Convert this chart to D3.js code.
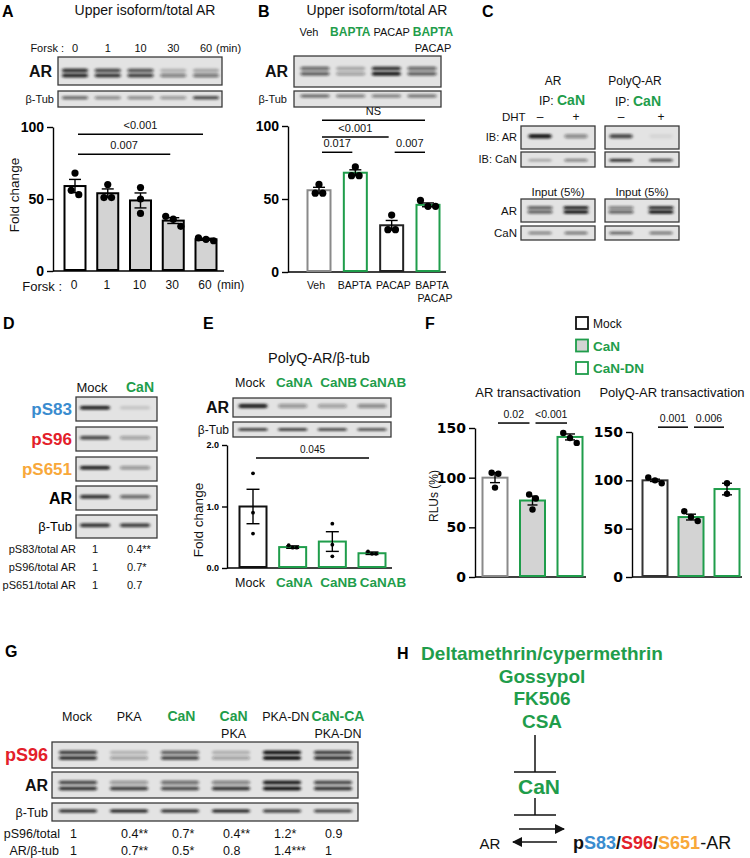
<!DOCTYPE html>
<html lang="en">
<head>
<meta charset="UTF-8">
<title>Calcineurin dephosphorylates AR</title>
<script src="https://cdnjs.cloudflare.com/ajax/libs/d3/7.8.5/d3.min.js"></script>
<style>
  body { margin: 0; background: #fff; }
  svg { display: block; font-family: "Liberation Sans", Arial, sans-serif; }
</style>
</head>
<body>
<script>
const GREEN = "#1f9d4b", BLUE = "#3a8ccf", RED = "#e3202a", ORANGE = "#f8a83a", GRAYFILL = "#d3d3d3";

// ---- A: forskolin time course ----
const aLanes = ["0", "1", "10", "30", "60"];
const aMean = [59, 54, 49, 35, 22];
const aSem = [4.6, 3, 5.2, 2, 0.7];
const aDots = [[68, 53, 56], [60, 51, 51], [58, 50, 40], [38, 36, 31], [23, 21, 22]];
const aSig = [["0", "60", 95, "<0.001"], ["0", "30", 81, "0.007"]];
const aARup = [0.85, 0.7, 0.65, 0.2, 0.25];
const aARlo = [0.9, 0.8, 0.75, 0.45, 0.5];
const aTub = [0.55, 0.4, 0.4, 0.35, 0.7];

// ---- B: BAPTA / PACAP ----
const bLanes = ["Veh", "BAPTA", "PACAP", "BAPTA PACAP"];
const bMean = [56, 68, 32, 46];
const bSem = [2, 2, 3.3, 1.3];
const bDots = [[60, 54, 54], [72, 66, 66], [39, 29, 29], [49, 45, 45]];
const bSig = [["Veh", "BAPTA PACAP", 104, "NS"], ["Veh", "PACAP", 92.5, "<0.001"],
              ["Veh", "BAPTA", 82, "0.017"], ["PACAP", "BAPTA PACAP", 82, "0.007"]];
const bARup = [0.55, 0.25, 0.8, 0.55];
const bARlo = [0.6, 0.3, 0.95, 0.6];
const bTub = [0.55, 0.45, 0.45, 0.5];

// ---- C: co-IP ----
const cLanes = ["-", "+"];
const cIBAR = [[0.95, 0.4], [0.7, 0.06]];
const cIBCaN = [[0.25, 0.45], [0.85, 0.7]];
const cInARup = [[0.6, 0.9], [0.45, 0.85]];
const cInARlo = [[0.6, 0.95], [0.6, 0.95]];
const cInCaN = [[0.45, 0.5], [0.6, 0.5]];

// ---- D: phospho-sites ----
const dLanes = ["Mock", "CaN"];
const dBlots = [
  { name: "pS83", color: BLUE, v: [0.9, 0.12] },
  { name: "pS96", color: RED, v: [0.7, 0.3] },
  { name: "pS651", color: ORANGE, v: [0.9, 0.35] },
  { name: "AR", color: "#000", v: [0.8, 0.55] },
  { name: "β-Tub", color: "#000", v: [0.8, 0.75] }
];
const dRows = [["pS83/total AR", "1", "0.4**"], ["pS96/total AR", "1", "0.7*"], ["pS651/total AR", "1", "0.7"]];

// ---- E: PolyQ-AR / CaN subunits ----
const eLanes = ["Mock", "CaNA", "CaNB", "CaNAB"];
const eMean = [1.0, 0.34, 0.43, 0.24];
const eSem = [0.28, 0.02, 0.16, 0.02];
const eDots = [[1.54, 0.90, 0.56], [0.37, 0.33, 0.33], [0.72, 0.38, 0.19], [0.27, 0.23, 0.23]];
const eSig = [["Mock", "CaNAB", 1.79, "0.045"]];
const eAR = [0.9, 0.35, 0.3, 0.4];
const eTub = [0.75, 0.75, 0.7, 0.65];

// ---- F: transactivation ----
const fCats = ["Mock", "CaN", "CaN-DN"];
const fLeftMean = [100, 77, 141];
const fLeftSem = [5, 4.5, 3];
const fLeftDots = [[105, 104, 90], [83, 79, 68], [145, 140, 135]];
const fLeftSig = [["Mock", "CaN", 155, "0.02"], ["CaN", "CaN-DN", 155, "<0.001"]];
const fRightMean = [100, 62, 91];
const fRightSem = [1.2, 3, 6];
const fRightDots = [[103, 97, 100], [68, 62, 58], [97, 86]];
const fRightSig = [["Mock", "CaN", 155, "0.001"], ["CaN", "CaN-DN", 155, "0.006"]];

// ---- G: PKA / CaN ----
const gLanes = ["Mock", "PKA", "CaN", "CaN+PKA", "PKA-DN", "CaN-CA+PKA-DN"];
const gTop = [["Mock", false], ["PKA", false], ["CaN", true], ["CaN", true], ["PKA-DN", false], ["CaN-CA", true]];
const gSub = ["", "", "", "PKA", "", "PKA-DN"];
const gS96up = [0.75, 0.2, 0.6, 0.22, 1, 0.75];
const gS96lo = [0.8, 0.3, 0.7, 0.3, 1, 0.8];
const gARup = [0.7, 0.35, 0.55, 0.45, 0.95, 0.7];
const gARlo = [0.8, 0.75, 0.7, 0.8, 1, 0.8];
const gTub = [0.8, 0.85, 0.8, 0.85, 0.75, 0.7];
const gRowS96 = ["1", "0.4**", "0.7*", "0.4**", "1.2*", "0.9"];
const gRowARtub = ["1", "0.7**", "0.5*", "0.8", "1.4***", "1"];

// ---- H: scheme ----
const hInhibitors = ["Deltamethrin/cypermethrin", "Gossypol", "FK506", "CSA"];

const svg = d3.select("body").append("svg").attr("width", 750).attr("height", 858);
const defs = svg.append("defs");
defs.append("filter").attr("id", "band").attr("x", "-30%").attr("y", "-150%").attr("width", "160%").attr("height", "400%")
  .append("feGaussianBlur").attr("stdDeviation", "1.6 0.9");
defs.append("marker").attr("id", "head").attr("viewBox", "0 0 10 10").attr("refX", 9).attr("refY", 5)
  .attr("markerWidth", 11).attr("markerHeight", 10).attr("markerUnits", "userSpaceOnUse").attr("orient", "auto")
  .append("path").attr("d", "M0,0 L10,5 L0,10 z").attr("fill", "#111");

function txt(x, y, s, o = {}) {
  return svg.append("text").attr("x", x).attr("y", y).text(s)
    .attr("font-size", o.size || 11).attr("font-weight", o.bold ? "bold" : "normal")
    .attr("fill", o.color || "#111").attr("text-anchor", o.anchor || "middle");
}
function rich(x, y, parts, o = {}) {
  const t = svg.append("text").attr("x", x).attr("y", y).attr("font-size", o.size || 11)
    .attr("text-anchor", o.anchor || "middle");
  parts.forEach(p => t.append("tspan").text(p[0]).attr("fill", p[1] || "#111")
    .attr("font-weight", p[2] ? "bold" : "normal").attr("font-size", p[3] || null));
  return t;
}
function letter(x, y, s) { txt(x, y, s, { size: 16, bold: true, anchor: "start", color: "#000" }); }

// western blot strip: box [x0,y0,x1,y1], lane scale, rows of bands
function blot(box, xs, rows, bw) {
  const [x0, y0, x1, y1] = box;
  const g = svg.append("g");
  g.append("rect").attr("x", x0).attr("y", y0).attr("width", x1 - x0).attr("height", y1 - y0)
    .attr("fill", "#e3e3e3").attr("stroke", "#3a3a3a").attr("stroke-width", 1.3);
  rows.forEach(r => {
    g.selectAll(null).data(xs.domain()).join("rect")
      .attr("x", d => xs(d) - bw / 2).attr("width", bw)
      .attr("y", y0 + r.f * (y1 - y0) - r.h / 2).attr("height", r.h).attr("rx", r.h / 2)
      .attr("fill", "#141414").attr("fill-opacity", (d, i) => r.v[i])
      .attr("filter", "url(#band)");
  });
}
function blotLabel(xr, box, s, o = {}) {
  const cy = (box[1] + box[3]) / 2;
  const size = o.size || 11;
  txt(xr, cy + size * 0.36, s, { size, bold: o.bold, color: o.color || "#111", anchor: "end" });
}

// bar chart with sem and individual points
function bars(o) {
  const g = svg.append("g");
  const base = o.y(0);
  const ax = g.append("g").attr("transform", `translate(${o.x0},0)`)
    .call(d3.axisLeft(o.y).tickValues(o.ticks).tickSize(o.tick || 6).tickSizeOuter(0).tickPadding(o.pad || 3));
  ax.selectAll("path,line").attr("stroke", "#000").attr("stroke-width", o.axW || 1.4);
  ax.selectAll("text").attr("font-size", o.fs).attr("font-weight", "bold").attr("fill", "#000")
    .attr("font-family", o.ff || null);
  g.append("line").attr("x1", o.x0).attr("x2", o.x1).attr("y1", base).attr("y2", base)
    .attr("stroke", "#000").attr("stroke-width", o.axW || 1.4);
  const cats = o.x.domain();
  g.selectAll(null).data(cats).join("rect")
    .attr("x", d => o.x(d) - o.bw / 2).attr("width", o.bw)
    .attr("y", (d, i) => o.y(o.mean[i])).attr("height", (d, i) => base - o.y(o.mean[i]) - 1)
    .attr("fill", (d, i) => o.fill[i]).attr("stroke", (d, i) => o.stroke[i]).attr("stroke-width", o.sw || 2);
  cats.forEach((c, i) => {
    const cx = o.x(c), lo = o.y(o.mean[i] - o.sem[i]), hi = o.y(o.mean[i] + o.sem[i]);
    g.append("line").attr("x1", cx).attr("x2", cx).attr("y1", lo).attr("y2", hi).attr("stroke", "#000").attr("stroke-width", 1.4);
    [lo, hi].forEach(yy => g.append("line").attr("x1", cx - o.cap / 2).attr("x2", cx + o.cap / 2)
      .attr("y1", yy).attr("y2", yy).attr("stroke", "#000").attr("stroke-width", 1.4));
    // spread points that would overlap, like a small beeswarm
    const pts = o.dots[i].map(v => ({ v, py: o.y(v) })).sort((a, b) => a.py - b.py);
    const groups = [];
    pts.forEach(p => {
      const last = groups[groups.length - 1];
      if (last && p.py - last[last.length - 1].py < 2 * o.r) last.push(p); else groups.push([p]);
    });
    groups.forEach(gr => gr.forEach((p, j) => { p.dx = (j - (gr.length - 1) / 2) * 2.1 * o.r; }));
    g.selectAll(null).data(pts).join("circle")
      .attr("cx", p => cx + p.dx).attr("cy", p => p.py).attr("r", o.r).attr("fill", "#000");
  });
  (o.sig || []).forEach(([a, b, lvl, lab]) => {
    const yy = o.y(lvl);
    g.append("line").attr("x1", o.x(a) + 3).attr("x2", o.x(b) - 3).attr("y1", yy).attr("y2", yy)
      .attr("stroke", "#000").attr("stroke-width", 1.5);
    g.append("text").attr("x", (o.x(a) + o.x(b)) / 2).attr("y", yy - 5).text(lab)
      .attr("font-size", o.sigFs || 11).attr("text-anchor", "middle").attr("fill", "#111");
  });
  return g;
}
function yLabel(x, y, s, size) {
  svg.append("text").attr("transform", `translate(${x},${y}) rotate(-90)`).text(s)
    .attr("font-size", size || 13).attr("text-anchor", "middle").attr("fill", "#111");
}

// ================= A =================
letter(2, 17, "A");
txt(145, 15, "Upper isoform/total AR", { size: 14 });
const xA = d3.scalePoint().domain(aLanes).range([75, 206]);
const yA = d3.scaleLinear().domain([0, 100]).range([271, 127]);
txt(64, 52, "Forsk :", { anchor: "end", size: 11 });
aLanes.forEach(l => txt(xA(l), 52, l, { size: 11 }));
txt(216, 52, "(min)", { anchor: "start", size: 11 });
const aBoxAR = [58, 57, 222, 85], aBoxTub = [58, 91, 222, 107];
blot(aBoxAR, xA, [{ f: 0.48, h: 4, v: aARup }, { f: 0.66, h: 4, v: aARlo }], 26);
blot(aBoxTub, xA, [{ f: 0.42, h: 3.5, v: aTub }], 26);
blotLabel(52, aBoxAR, "AR", { size: 16, bold: true });
blotLabel(54, aBoxTub, "β-Tub", { size: 11 });
bars({ x: xA, y: yA, x0: 53, x1: 224, ticks: [0, 50, 100], fs: 14, bw: 21, cap: 12, r: 3.6,
  mean: aMean, sem: aSem, dots: aDots, sig: aSig,
  fill: aLanes.map((d, i) => i === 0 ? "#fff" : GRAYFILL), stroke: aLanes.map(() => "#000") });
yLabel(19, 195, "Fold change", 13.5);
txt(62, 291, "Forsk :", { anchor: "end", size: 13 });
aLanes.forEach(l => txt(xA(l) - 1, 289, l, { size: 12 }));
txt(217, 289, "(min)", { anchor: "start", size: 12 });

// ================= B =================
letter(258, 17, "B");
txt(377, 15, "Upper isoform/total AR", { size: 14 });
const xB = d3.scalePoint().domain(bLanes).range([319, 428]);
const xBblot = d3.scalePoint().domain(bLanes).range([315, 422]);
const xBlab = d3.scalePoint().domain(bLanes).range([309, 433]);
const xBbot = d3.scalePoint().domain(bLanes).range([316, 432]);
const yB = d3.scaleLinear().domain([0, 100]).range([272, 126]);
const bTopText = [["Veh", false], ["BAPTA", true], ["PACAP", false], ["BAPTA", true]];
bLanes.forEach((l, i) => txt(xBlab(l), 36, bTopText[i][0], { size: bTopText[i][1] ? 12 : 11, bold: bTopText[i][1], color: bTopText[i][1] ? GREEN : "#111" }));
txt(xBlab("BAPTA PACAP"), 52, "PACAP", { size: 11 });
const bBoxAR = [294, 56, 441, 87], bBoxTub = [294, 91, 441, 107];
blot(bBoxAR, xBblot, [{ f: 0.4, h: 4, v: bARup }, { f: 0.57, h: 4, v: bARlo }], 29);
blot(bBoxTub, xBblot, [{ f: 0.32, h: 3.5, v: bTub }], 29);
blotLabel(288, bBoxAR, "AR", { size: 16, bold: true });
blotLabel(287, bBoxTub, "β-Tub", { size: 11 });
bars({ x: xB, y: yB, x0: 288, x1: 446, ticks: [0, 50, 100], fs: 14, bw: 23, cap: 12, r: 3.6,
  mean: bMean, sem: bSem, dots: bDots, sig: bSig,
  fill: bLanes.map(() => "#fff"), stroke: ["#8a8a8a", GREEN, "#222", GREEN] });
bLanes.forEach((l, i) => txt(xBbot(l), 289, ["Veh", "BAPTA", "PACAP", "BAPTA"][i], { size: 10.5 }));
txt(xBbot("BAPTA PACAP") + 3, 302, "PACAP", { size: 10.5 });

// ================= C =================
letter(482, 17, "C");
const xCL = d3.scalePoint().domain(cLanes).range([540, 576]);
const xCR = d3.scalePoint().domain(cLanes).range([621, 661]);
txt(553, 85, "AR", { size: 12 });
txt(635, 85, "PolyQ-AR", { size: 12 });
rich(562, 105, [["IP: "], ["CaN", GREEN, true, 14]], { size: 12 });
rich(638, 106, [["IP: "], ["CaN", GREEN, true, 14]], { size: 12 });
txt(502, 121, "DHT", { anchor: "start", size: 11.5 });
cLanes.forEach(l => { txt(xCL(l), 121, l === "-" ? "–" : "+", { size: 12 }); txt(xCR(l), 121, l === "-" ? "–" : "+", { size: 12 }); });
[[xCL, 521, 595, 0], [xCR, 605, 679, 1]].forEach(([xs, x0, x1, k]) => {
  blot([x0, 126, x1, 149], xs, [{ f: 0.45, h: 4.5, v: cIBAR[k] }], 23);
  blot([x0, 152, x1, 167], xs, [{ f: 0.55, h: 3, v: cIBCaN[k] }], 23);
  blot([x0, 199, x1, 222], xs, [{ f: 0.38, h: 3.5, v: cInARup[k] }, { f: 0.56, h: 3.5, v: cInARlo[k] }], 25);
  blot([x0, 226, x1, 240], xs, [{ f: 0.5, h: 3, v: cInCaN[k] }], 23);
  txt((x0 + x1) / 2, 196, "Input (5%)", { size: 11.5 });
});
blotLabel(517, [0, 126, 0, 149], "IB: AR", { size: 11 });
blotLabel(517, [0, 152, 0, 167], "IB: CaN", { size: 11 });
blotLabel(517, [0, 199, 0, 222], "AR", { size: 11.5 });
blotLabel(517, [0, 226, 0, 240], "CaN", { size: 11.5 });

// ================= D =================
letter(3, 329, "D");
const xD = d3.scalePoint().domain(dLanes).range([95, 135]);
txt(92, 392, "Mock", { size: 13 });
txt(140, 392, "CaN", { size: 14, bold: true, color: GREEN });
const dBoxes = [[76, 397, 157, 421], [76, 427, 157, 451], [76, 457, 157, 481], [76, 486, 157, 510], [76, 515, 157, 538]];
dBlots.forEach((b, i) => {
  blot(dBoxes[i], xD, [{ f: 0.45, h: 4, v: b.v }], 30);
  const big = b.name !== "β-Tub";
  blotLabel(72, dBoxes[i], b.name, { size: big ? (b.name === "AR" ? 16 : 17) : 13, bold: big, color: b.color });
});
dRows.forEach((r, i) => {
  const y = 553 + i * 18;
  txt(76, y, r[0], { anchor: "end", size: 11 });
  txt(xD("Mock"), y, r[1], { size: 11 });
  txt(xD("CaN") - 8, y, r[2], { anchor: "start", size: 11 });
});

// ================= E =================
letter(203, 329, "E");
txt(319, 363, "PolyQ-AR/β-tub", { size: 14.5 });
const xE = d3.scalePoint().domain(eLanes).range([253, 372]);
const xElab = d3.scalePoint().domain(eLanes).range([250, 383]);
const yE = d3.scaleLinear().domain([0, 2]).range([568, 445]);
eLanes.forEach((l, i) => txt(xElab(l), 387, l, { size: i ? 13.5 : 12.5, bold: i > 0, color: i ? GREEN : "#111" }));
const eBoxAR = [233, 398, 391, 417], eBoxTub = [233, 422, 391, 437];
blot(eBoxAR, xE, [{ f: 0.42, h: 4.5, v: eAR }], 29);
blot(eBoxTub, xE, [{ f: 0.5, h: 3, v: eTub }], 29);
blotLabel(229, eBoxAR, "AR", { size: 16, bold: true });
blotLabel(229, eBoxTub, "β-Tub", { size: 12 });
bars({ x: xE, y: yE, x0: 227, x1: 392, ticks: [0, 1, 2], fs: 9, tick: 5, bw: 27, cap: 13, r: 1.9, sw: 2,
  mean: eMean, sem: eSem, dots: eDots, sig: eSig, sigFs: 10,
  fill: eLanes.map(() => "#fff"), stroke: ["#111", GREEN, GREEN, GREEN] });
yLabel(203, 520, "Fold change", 13.5);
eLanes.forEach((l, i) => txt(xElab(l), 587, l, { size: i ? 13.5 : 12.5, bold: i > 0, color: i ? GREEN : "#111" }));

// ================= F =================
letter(425, 329, "F");
const legendFill = ["#fff", GRAYFILL, "#fff"], legendStroke = ["#111", GREEN, GREEN];
fCats.forEach((c, i) => {
  const cy = 323 + i * 22.5;
  svg.append("rect").attr("x", 576).attr("y", cy - 6).attr("width", 12).attr("height", 12)
    .attr("fill", legendFill[i]).attr("stroke", legendStroke[i]).attr("stroke-width", 1.8);
  txt(593, cy + 5, c, { size: i ? 13.5 : 12, bold: i > 0, color: i ? GREEN : "#111", anchor: "start" });
});
txt(528, 397, "AR transactivation", { size: 13 });
txt(672, 397, "PolyQ-AR transactivation", { size: 13 });
const xFL = d3.scalePoint().domain(fCats).range([495, 570]);
const yFL = d3.scaleLinear().domain([0, 150]).range([577, 428]);
bars({ x: xFL, y: yFL, x0: 475, x1: 586, ticks: [0, 50, 100, 150], fs: 14, ff: "DejaVu Sans", bw: 25, cap: 10, r: 3.2,
  mean: fLeftMean, sem: fLeftSem, dots: fLeftDots, sig: fLeftSig, sigFs: 10.5,
  fill: ["#fff", GRAYFILL, "#fff"], stroke: ["#8a8a8a", GREEN, GREEN] });
yLabel(438, 496, "RLUs (%)", 12);
const xFR = d3.scalePoint().domain(fCats).range([655, 727]);
const yFR = d3.scaleLinear().domain([0, 150]).range([577, 432]);
bars({ x: xFR, y: yFR, x0: 632, x1: 742, ticks: [0, 50, 100, 150], fs: 14, ff: "DejaVu Sans", bw: 25, cap: 10, r: 3.2,
  mean: fRightMean, sem: fRightSem, dots: fRightDots, sig: fRightSig, sigFs: 10.5,
  fill: ["#fff", GRAYFILL, "#fff"], stroke: ["#333", GREEN, GREEN] });

// ================= G =================
letter(5, 657, "G");
const xG = d3.scalePoint().domain(gLanes).range([78, 333]);
const xGlab = d3.scalePoint().domain(gLanes).range([77, 338]);
gLanes.forEach((l, i) => {
  txt(xGlab(l), 721, gTop[i][0], { size: gTop[i][1] ? 14 : 12.5, bold: gTop[i][1], color: gTop[i][1] ? GREEN : "#111" });
  if (gSub[i]) txt(xGlab(l), 738, gSub[i], { size: 12.5 });
});
const gBoxS96 = [52, 742, 358, 768], gBoxAR = [52, 772, 358, 798], gBoxTub = [52, 803, 358, 821];
blot(gBoxS96, xG, [{ f: 0.4, h: 4, v: gS96up }, { f: 0.62, h: 4, v: gS96lo }], 38);
blot(gBoxAR, xG, [{ f: 0.4, h: 4, v: gARup }, { f: 0.63, h: 4, v: gARlo }], 38);
blot(gBoxTub, xG, [{ f: 0.45, h: 3.5, v: gTub }], 38);
blotLabel(48, gBoxS96, "pS96", { size: 18, bold: true, color: RED });
blotLabel(48, gBoxAR, "AR", { size: 16, bold: true });
blotLabel(48, gBoxTub, "β-Tub", { size: 12.5 });
txt(60, 838, "pS96/total", { size: 12.5, anchor: "end" });
txt(59, 855, "AR/β-tub", { size: 12.5, anchor: "end" });
gLanes.forEach((l, i) => {
  txt(xG(l) - 8, 838, gRowS96[i], { size: 12.5, anchor: "start" });
  txt(xG(l) - 8, 855, gRowARtub[i], { size: 12.5, anchor: "start" });
});

// ================= H =================
letter(397, 659, "H");
hInhibitors.forEach((s, i) => txt(542, 660 + i * 22.7, s, { size: 19, bold: true, color: GREEN }));
const line = (x1, y1, x2, y2, w) => svg.append("line").attr("x1", x1).attr("y1", y1).attr("x2", x2).attr("y2", y2)
  .attr("stroke", "#111").attr("stroke-width", w || 1.5);
line(535, 735, 535, 772); line(514, 772, 556, 772);
txt(539, 794, "CaN", { size: 21, bold: true, color: GREEN });
line(535, 798, 535, 815); line(514, 815, 556, 815);
line(519, 829, 564, 829, 1.6).attr("marker-end", "url(#head)");
line(557, 842, 513, 842, 1.6).attr("marker-end", "url(#head)");
txt(490, 849, "AR", { size: 15 });
rich(573, 849, [["p", "#111", true], ["S83", BLUE, true], ["/", "#111", true], ["S96", RED, true],
  ["/", "#111", true], ["S651", ORANGE, true], ["-AR", "#111", false]], { size: 18, anchor: "start" });
</script>
</body>
</html>
